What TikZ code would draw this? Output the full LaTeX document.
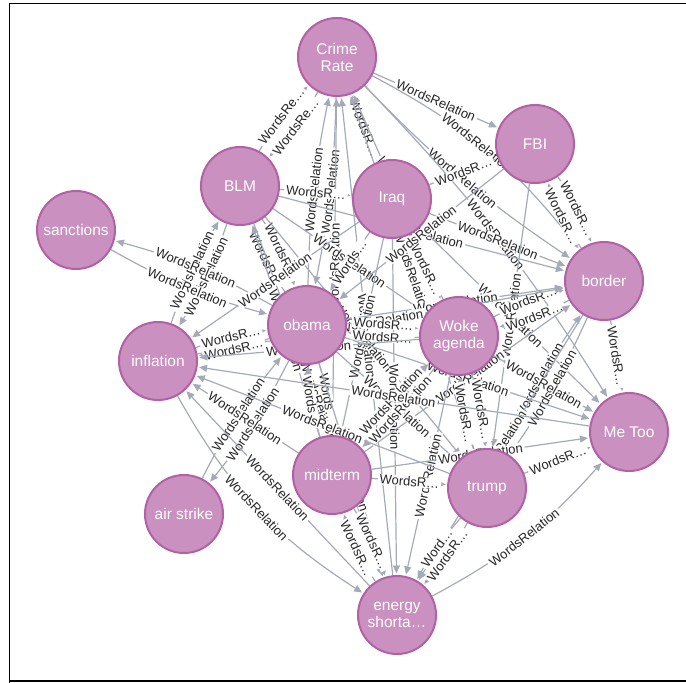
\documentclass[tikz,border=0pt]{standalone}
\usepackage{fontspec}
\setmainfont{Liberation Sans}
\usetikzlibrary{arrows.meta}
\definecolor{nodefill}{HTML}{C990C0}
\definecolor{nodeline}{HTML}{B261A5}
\definecolor{edgecol}{HTML}{A5ABB6}
\pgfdeclarelayer{edges}
\pgfsetlayers{edges,main}
\begin{document}
\begin{tikzpicture}[x=1pt,y=-1pt,
 gnode/.style={circle, draw=nodeline, line width=2pt, fill=nodefill, minimum size=78pt, inner sep=0pt, text=white, font=\fontsize{15.5}{17}\selectfont, align=center},
 rel/.style={draw=edgecol, line width=1.2pt, -{Triangle[length=8pt,width=7pt]}, shorten >=1.5pt},
 lbl/.style={sloped, fill=white, inner xsep=2pt, inner ysep=0.5pt, font=\fontsize{13}{13.5}\selectfont, text=black!85}
]
\useasboundingbox (0,0) rectangle (686,683);
\draw[line width=1.6pt] (9.5,683) -- (9.5,3.5) -- (686,3.5);
\draw[line width=1.6pt] (9.5,681) -- (686,681);

\node[gnode] (CR)  at (337,57)  {Crime\\Rate};
\node[gnode] (FBI) at (535,144) {FBI};
\node[gnode] (BLM) at (240,186) {BLM};
\node[gnode] (IQ)  at (392,199) {Iraq};
\node[gnode] (SA)  at (76,230)  {sanctions};
\node[gnode] (BO)  at (604,281) {border};
\node[gnode] (OB)  at (307,325) {obama};
\node[gnode] (WA)  at (459,336) {Woke\\agenda};
\node[gnode] (IN)  at (158,361) {inflation};
\node[gnode] (ME)  at (629,432) {Me Too};
\node[gnode] (MI)  at (332,475) {midterm};
\node[gnode] (TR)  at (487,488) {trump};
\node[gnode] (AS)  at (184,514) {air strike};
\node[gnode] (EN)  at (397,615) {energy\\shorta…};

\begin{pgfonlayer}{edges}
% Crime Rate
\draw[rel] (BLM) to[bend left=8] node[lbl]{WordsRe…} (CR);
\draw[rel] (CR) to[bend left=8] node[lbl]{WordsRe…} (BLM);
\draw[rel] (CR) -- node[lbl]{WordsRelation} (FBI);
\draw[rel] (CR) to[bend left=12] node[lbl,pos=0.45]{WordsRelation} (BO);
\draw[rel] (CR) to[bend right=6] node[lbl]{WordsRelation} (BO);
\draw[rel] (CR) to[bend left=6] node[lbl]{WordsRelation} (ME);
\draw[rel] (IQ) -- node[lbl]{WordsR…} (CR);
\draw[rel] (OB) to[bend left=5] node[lbl]{WordsRelation} (CR);
\draw[rel] (CR) to[bend left=5] node[lbl]{WordsRelation} (OB);
\draw[rel] (MI) -- node[lbl]{WordsRelation} (CR);
\draw[rel] (WA) -- node[lbl]{WordsRelation} (CR);
\draw[rel] (EN) -- node[lbl]{WordsRelation} (CR);
\draw[rel] (TR) -- node[lbl]{WordsRelation} (CR);
% BLM
\draw[rel] (BLM) to[bend left=6] node[lbl]{WordsRelation} (IN);
\draw[rel] (IN) to[bend left=6] node[lbl]{WordsRelation} (BLM);
\draw[rel] (BLM) to[bend left=8] node[lbl]{WordsR…} (OB);
\draw[rel] (OB) to[bend left=8] node[lbl]{WordsR…} (BLM);
\draw[rel] (MI) -- node[lbl]{WordsRelation} (BLM);
\draw[rel] (BLM) -- node[lbl]{WordsR…} (IQ);
\draw[rel] (BLM) -- node[lbl]{WordsRelation} (WA);
\draw[rel] (BLM) -- node[lbl]{WordsRelation} (BO);
\draw[rel] (BLM) -- node[lbl]{WordsRelation} (TR);
\draw[rel] (BLM) -- node[lbl]{WordsRelation} (EN);
% sanctions
\draw[rel] (OB) to[bend right=7] node[lbl]{WordsRelation} (SA);
\draw[rel] (SA) to[bend right=7] node[lbl]{WordsRelation} (OB);
% Iraq
\draw[rel] (IQ) -- node[lbl]{WordsR…} (FBI);
\draw[rel] (IQ) -- node[lbl]{Words…} (OB);
\draw[rel] (IQ) -- node[lbl]{WordsR…} (WA);
\draw[rel] (IQ) -- node[lbl]{WordsRelation} (BO);
\draw[rel] (IQ) -- node[lbl]{WordsRelation} (ME);
\draw[rel] (IQ) -- node[lbl]{WordsRelation} (MI);
\draw[rel] (IQ) -- node[lbl]{WordsRelation} (EN);
\draw[rel] (IQ) -- node[lbl]{WordsRelation} (IN);
% FBI
\draw[rel] (FBI) to[bend left=8] node[lbl]{WordsR…} (BO);
\draw[rel] (BO) to[bend left=8] node[lbl]{WordsR…} (FBI);
\draw[rel] (FBI) -- node[lbl]{WordsRelation} (TR);
\draw[rel] (FBI) -- node[lbl]{WordsRelation} (OB);
% border
\draw[rel] (BO) -- node[lbl]{WordsR…} (ME);
\draw[rel] (WA) to[bend left=8] node[lbl]{WordsR…} (BO);
\draw[rel] (BO) to[bend left=8] node[lbl]{WordsR…} (WA);
\draw[rel] (OB) -- node[lbl]{WordsRelation} (BO);
\draw[rel] (MI) -- node[lbl]{WordsRelation} (BO);
\draw[rel] (TR) to[bend left=5] node[lbl]{WordsRelation} (BO);
\draw[rel] (BO) to[bend left=5] node[lbl]{WordsRelation} (TR);
\draw[rel] (IN) -- node[lbl]{WordsRelation} (BO);
\draw[rel] (BO) -- node[lbl]{WordsRelation} (EN);
% obama
\draw[rel] (OB) to[bend left=6] node[lbl]{WordsR…} (IN);
\draw[rel] (IN) to[bend left=6] node[lbl]{WordsR…} (OB);
\draw[rel] (OB) to[bend left=6] node[lbl]{WordsR…} (WA);
\draw[rel] (WA) to[bend left=6] node[lbl]{WordsR…} (OB);
\draw[rel] (OB) to[bend left=8] node[lbl]{Words…} (MI);
\draw[rel] (MI) to[bend left=8] node[lbl]{Words…} (OB);
\draw[rel] (OB) -- node[lbl]{WordsRelation} (TR);
\draw[rel] (OB) -- node[lbl]{WordsRelation} (ME);
\draw[rel] (OB) -- node[lbl]{WordsRelation} (EN);
\draw[rel] (OB) to[bend left=6] node[lbl]{WordsRelation} (AS);
\draw[rel] (AS) to[bend left=6] node[lbl]{WordsRelation} (OB);
% Woke agenda
\draw[rel] (WA) -- node[lbl]{WordsRelation} (IN);
\draw[rel] (WA) -- node[lbl]{WordsRelation} (ME);
\draw[rel] (WA) to[bend left=8] node[lbl]{WordsR…} (TR);
\draw[rel] (TR) to[bend left=8] node[lbl]{WordsR…} (WA);
\draw[rel] (WA) to[bend left=5] node[lbl]{WordsRelation} (MI);
\draw[rel] (MI) to[bend left=5] node[lbl]{WordsRelation} (WA);
\draw[rel] (WA) -- node[lbl]{WordsRelation} (EN);
% inflation
\draw[rel] (MI) -- node[lbl]{WordsRelation} (IN);
\draw[rel] (TR) -- node[lbl]{WordsRelation} (IN);
\draw[rel] (ME) -- node[lbl]{WordsRelation} (IN);
\draw[rel] (IN) to[bend right=14] node[lbl]{WordsRelation} (EN);
\draw[rel] (EN) -- node[lbl]{WordsRelation} (IN);
% midterm
\draw[rel] (MI) to[bend left=8] node[lbl]{WordsR…} (EN);
\draw[rel] (EN) to[bend left=8] node[lbl]{WordsR…} (MI);
\draw[rel] (MI) -- node[lbl]{WordsR…} (TR);
\draw[rel] (MI) -- node[lbl]{WordsRelation} (ME);
% trump
\draw[rel] (TR) to[bend left=6] node[lbl]{WordsR…} (EN);
\draw[rel] (TR) to[bend right=6] node[lbl]{Word…} (EN);
\draw[rel] (TR) -- node[lbl]{WordsR…} (ME);
% energy
\draw[rel] (EN) to[bend right=10] node[lbl]{WordsRelation} (ME);
\end{pgfonlayer}
\end{tikzpicture}
\end{document}
